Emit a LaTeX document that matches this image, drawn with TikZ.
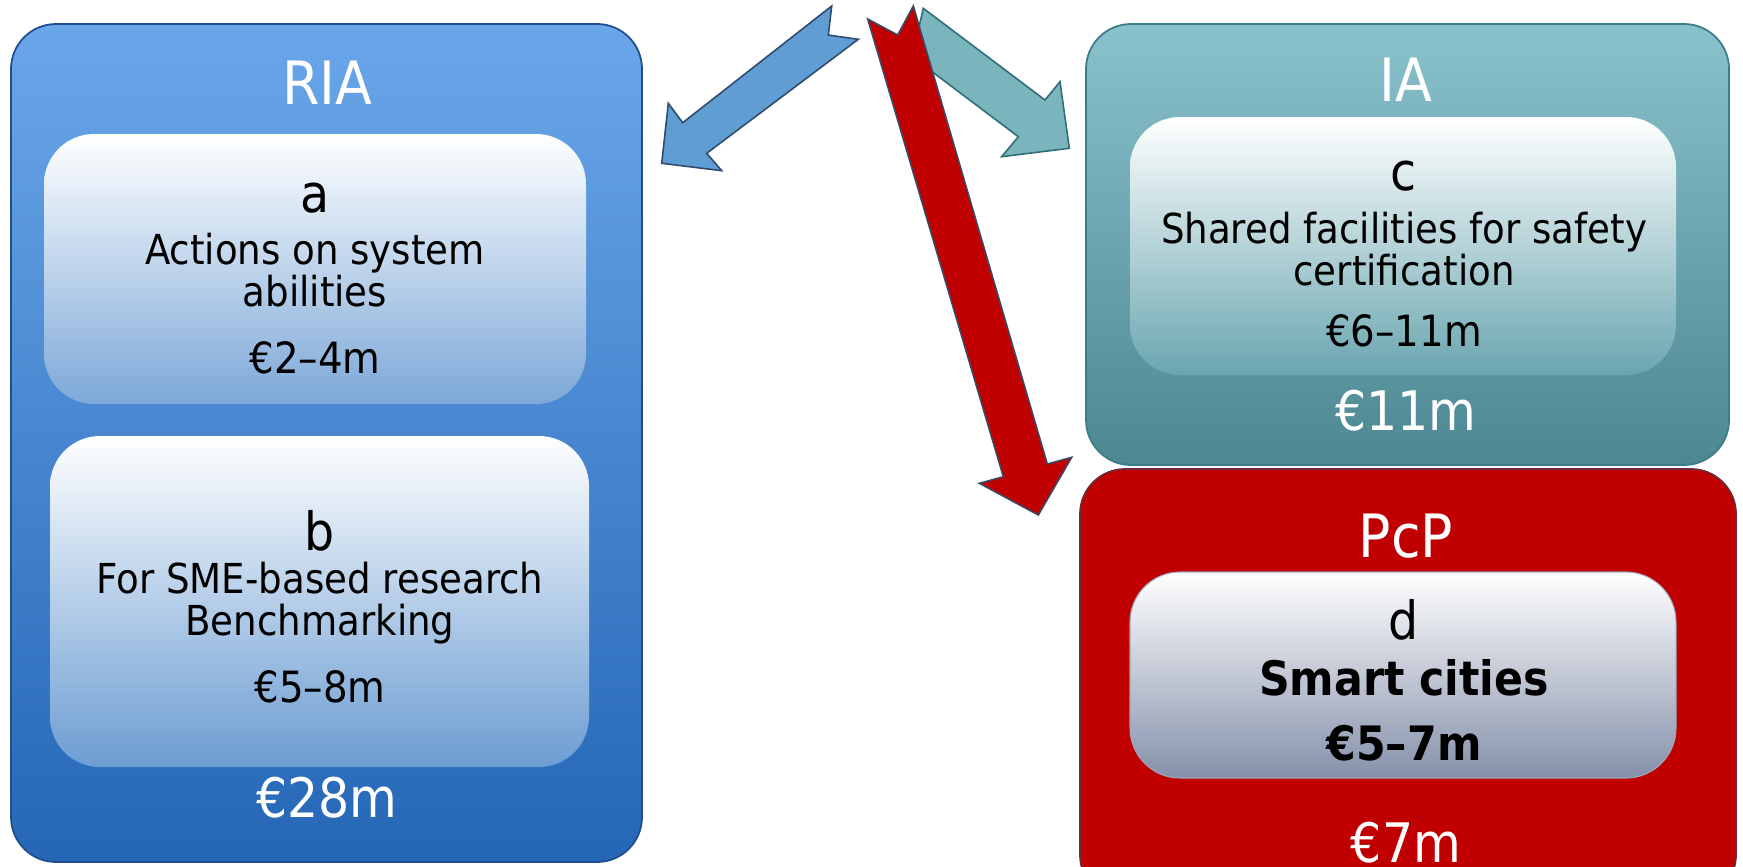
\documentclass[tikz,border=0pt]{standalone}
\usepackage{fontspec}
\setmainfont{DejaVu Sans Condensed}
\usepackage{tikz}
\usetikzlibrary{calc}

\definecolor{riatop}{HTML}{6AA6E9}
\definecolor{riabot}{HTML}{2567B6}
\definecolor{riaedge}{HTML}{1F4E8C}
\definecolor{iatop}{HTML}{8AC2CC}
\definecolor{iabot}{HTML}{4D8792}
\definecolor{iaedge}{HTML}{3B7C85}
\definecolor{pcpfill}{HTML}{C00000}
\definecolor{pcpedge}{HTML}{6E2A36}
\definecolor{abot}{HTML}{7DA8D8}
\definecolor{bbot}{HTML}{6C9DD2}
\definecolor{cbot}{HTML}{6AA6B0}
\definecolor{dbot}{HTML}{8591AA}
\definecolor{arrblue}{HTML}{609DD3}
\definecolor{arrblueedge}{HTML}{2F4B6E}
\definecolor{arrteal}{HTML}{7AB4BD}
\definecolor{arrtealedge}{HTML}{2F6E77}
\definecolor{arredge}{HTML}{3A4A66}

\tikzset{
  outbox/.style={rounded corners=0.9cm, line width=1pt},
  inbox/.style={rounded corners=1cm, top color=white},
  bigarrow/.style={line width=0.9pt, line join=miter},
  title/.style={text=white, font=\fontsize{34}{36}\selectfont},
  total/.style={text=white, font=\fontsize{31}{33}\selectfont},
  letter/.style={font=\fontsize{30}{32}\selectfont},
  body/.style={align=center, font=\fontsize{23.5}{24}\selectfont},
  amount/.style={font=\fontsize{24.5}{26}\selectfont},
  boldbody/.style={font=\fontsize{27}{28}\selectfont\bfseries},
}

\begin{document}
\begin{tikzpicture}[x=0.02cm, y=-0.02cm]
\useasboundingbox (0,0) rectangle (1743,866);

% RIA
\path[outbox, draw=riaedge, top color=riatop, bottom color=riabot] (11,24) rectangle (642,862);
\node[title] (ria) at (327,83) {RIA};
\path[inbox, bottom color=abot] (44,134) rectangle (586,404);
\node[letter] (la) at (315,198) {a};
\node[body] (ta) at (315,270) {Actions on system\\abilities};
\node[amount] (ma) at (315,358) {€2–4m};
\path[inbox, bottom color=bbot] (50,436) rectangle (589,767);
\node[letter] (lb) at (320,531) {b};
\node[body] (tb) at (320,603) {For SME-based research\\Benchmarking};
\node[amount] (mb) at (320,687) {€5–8m};
\node[total] (sria) at (327,798) {€28m};

% IA
\path[outbox, draw=iaedge, top color=iatop, bottom color=iabot] (1086,24) rectangle (1729,465);
\node[title] (ia) at (1406,80) {IA};
\path[inbox, bottom color=cbot] (1130,117) rectangle (1676,375);
\node[letter] (lc) at (1404,176) {c};
\node[body] (tc) at (1404,249) {Shared facilities for safety\\certification};
\node[amount] (mc) at (1404,331) {€6–11m};
\node[total] (sia) at (1406,411) {€11m};

% PcP
\path[outbox, draw=pcpedge, fill=pcpfill] (1080,469) rectangle (1736,900);
\node[title] (pcp) at (1406,536) {PcP};
\path[inbox, bottom color=dbot, draw=dbot!80!white, line width=0.6pt] (1130,572) rectangle (1676,778);
\node[letter] (ld) at (1404,620) {d};
\node[boldbody] (td) at (1404,678) {Smart cities};
\node[boldbody] (md) at (1404,743) {€5–7m};
\node[total] (spcp) at (1406,843) {€7m};

% arrows
\draw[bigarrow, draw=arrtealedge, fill=arrteal] (923.3,8.3) -- (1045,100) -- (1060,81.7) -- (1069.3,148.3)
  -- (1001.7,156.7) -- (1018.3,136.7) -- (896.1,44.6) -- (917.7,32.5) -- cycle;
\draw[bigarrow, draw=arrblueedge, fill=arrblue] (831.7,6) -- (828.3,35) -- (858.3,39.3) -- (706.7,153.3)
  -- (721.7,170.7) -- (661.7,163.3) -- (668.3,103.3) -- (682.7,122.7) -- cycle;
\draw[bigarrow, draw=arredge, fill=pcpfill] (867.7,19) -- (897.7,35) -- (913.3,6) -- (1047.3,464)
  -- (1071.7,457.3) -- (1038.3,515) -- (979.3,483.3) -- (1003.3,476.7) -- cycle;
\end{tikzpicture}
\end{document}
